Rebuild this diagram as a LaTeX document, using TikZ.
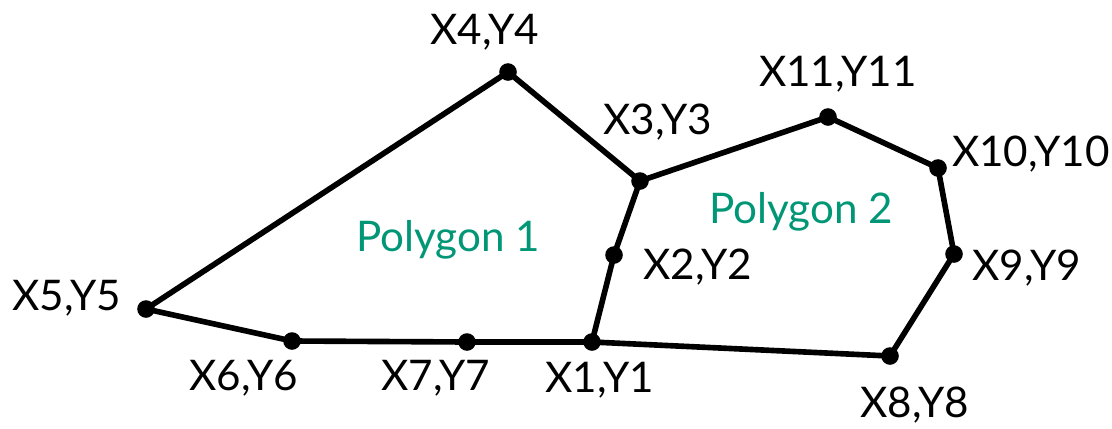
\documentclass[tikz,border=0pt]{standalone}
\usepackage{fontspec}
\setmainfont{Lato}
\usepackage{xcolor}
\usetikzlibrary{positioning}
\definecolor{polygreen}{RGB}{0,150,118}

\begin{document}
\begin{tikzpicture}[
  x=0.025cm, y=-0.025cm,
  pt/.style={circle, fill=black, inner sep=0pt, minimum size=0.44cm},
  lbl/.style={font=\fontsize{30}{36}\selectfont, inner sep=0pt},
  plbl/.style={font=\fontsize{30}{36}\selectfont, text=polygreen, inner sep=0pt},
  edge/.style={draw=black, line width=4pt, line join=round}
]
\useasboundingbox (0,0) rectangle (1112,428);

%% --- Vertices ---
\node[pt] (p1)  at (592,342) {};
\node[pt] (p2)  at (614,255) {};
\node[pt] (p3)  at (640,181) {};
\node[pt] (p4)  at (508, 72) {};
\node[pt] (p5)  at (146,309) {};
\node[pt] (p6)  at (292,341) {};
\node[pt] (p7)  at (467,342) {};
\node[pt] (p8)  at (890,356) {};
\node[pt] (p9)  at (954,254) {};
\node[pt] (p10) at (938,168) {};
\node[pt] (p11) at (828,117) {};

%% --- Polygon 1 ---
\draw[edge] (p5.center) -- (p4.center) -- (p3.center) -- (p2.center) -- (p1.center)
  -- (p7.center) -- (p6.center) -- cycle;

%% --- Polygon 2 ---
\draw[edge] (p3.center) -- (p11.center) -- (p10.center) -- (p9.center)
  -- (p8.center) -- (p1.center);

%% --- Vertex labels ---
\node[lbl] (l1)  at (600,380) {X1,Y1};
\node[lbl] (l2)  at (698,267) {X2,Y2};
\node[lbl] (l3)  at (658,122) {X3,Y3};
\node[lbl] (l4)  at (485, 32) {X4,Y4};
\node[lbl] (l5)  at ( 67,298) {X5,Y5};
\node[lbl] (l6)  at (244,378) {X6,Y6};
\node[lbl] (l7)  at (436,378) {X7,Y7};
\node[lbl] (l8)  at (915,405) {X8,Y8};
\node[lbl] (l9)  at (1027,268) {X9,Y9};
\node[lbl] (l10) at (1031,154) {X10,Y10};
\node[lbl] (l11) at (838, 74) {X11,Y11};

%% --- Polygon names ---
\node[plbl] (poly1) at (448,240) {Polygon 1};
\node[plbl] (poly2) at (801,212) {Polygon 2};

\end{tikzpicture}
\end{document}
